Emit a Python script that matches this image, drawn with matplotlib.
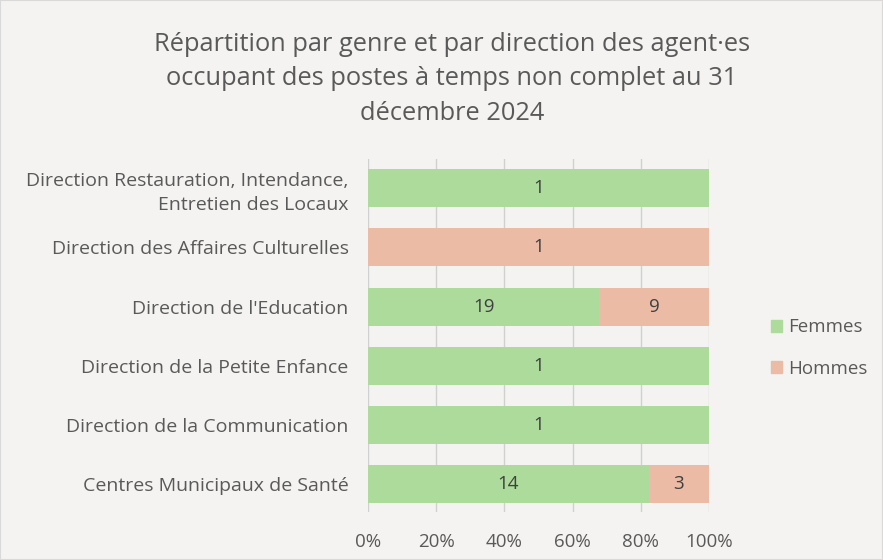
import matplotlib
matplotlib.use("Agg")
import matplotlib.pyplot as plt
import numpy as np

categories = [
    "Direction Restauration, Intendance,\nEntretien des Locaux",
    "Direction des Affaires Culturelles",
    "Direction de l'Education",
    "Direction de la Petite Enfance",
    "Direction de la Communication",
    "Centres Municipaux de Santé",
]
femmes = [1, 0, 19, 1, 1, 14]
hommes = [0, 1, 9, 0, 0, 3]
xticks = [0, 20, 40, 60, 80, 100]
xticklabels = ["0%", "20%", "40%", "60%", "80%", "100%"]
title = "Répartition par genre et par direction des agent·es\noccupant des postes à temps non complet au 31\ndécembre 2024"

plt.rcParams['font.family'] = ['Open Sans', 'DejaVu Sans']
bg = "#F4F3F1"
green = "#ADDB9C"
salmon = "#EBBBA5"
txt = "#595959"
fs = 13.5

fig = plt.figure(figsize=(8.83, 5.6), dpi=100, facecolor=bg)
ax = fig.add_axes([368/883, 1-512/560, (709-368)/883, (512-159)/560], facecolor=bg)

n = len(categories)
y = np.arange(n)[::-1]
fem = np.array(femmes, float)
hom = np.array(hommes, float)
tot = fem + hom
fp = fem / tot * 100
hp = hom / tot * 100

ax.barh(y, fp, height=0.64, color=green, zorder=3)
ax.barh(y, hp, left=fp, height=0.64, color=salmon, zorder=3)
for yi, f, h, fv, hv in zip(y, fp, hp, femmes, hommes):
    if fv:
        ax.text(f/2, yi, str(fv), ha='center', va='center', fontsize=fs, color="#404040", zorder=4)
    if hv:
        ax.text(f + h/2, yi, str(hv), ha='center', va='center', fontsize=fs, color="#404040", zorder=4)

ax.set_xlim(0, 100)
ax.set_ylim(-0.465, n - 0.51)
ax.set_xticks(xticks)
ax.set_xticklabels(xticklabels, fontsize=fs, color=txt)
ax.set_yticks(y)
ax.set_yticklabels(categories, fontsize=14, color=txt, linespacing=1.45)
ax.tick_params(axis='y', length=0, pad=14)
ax.tick_params(axis='x', length=0, pad=15)
ax.grid(axis='x', color="#D0D0D0", linewidth=1, zorder=0)
for s in ax.spines.values():
    s.set_visible(False)

fig.text(452/883, 1-79/560, title, ha='center', va='center', fontsize=18.3, color=txt, linespacing=1.52)

from matplotlib.patches import Patch
handles = [Patch(color=green, label="Femmes"), Patch(color=salmon, label="Hommes")]
fig.legend(handles=handles, loc='center left', bbox_to_anchor=(754/883, 1-348/560), frameon=False,
           fontsize=fs, labelcolor=txt, handlelength=0.6, handleheight=0.6, labelspacing=1.25, handletextpad=0.3)

fig.patches.append(plt.Rectangle((0, 0), 1, 1, transform=fig.transFigure, fill=False, edgecolor="#D9D9D9", linewidth=1.5))
fig.savefig("out.png", dpi=100, facecolor=bg)
